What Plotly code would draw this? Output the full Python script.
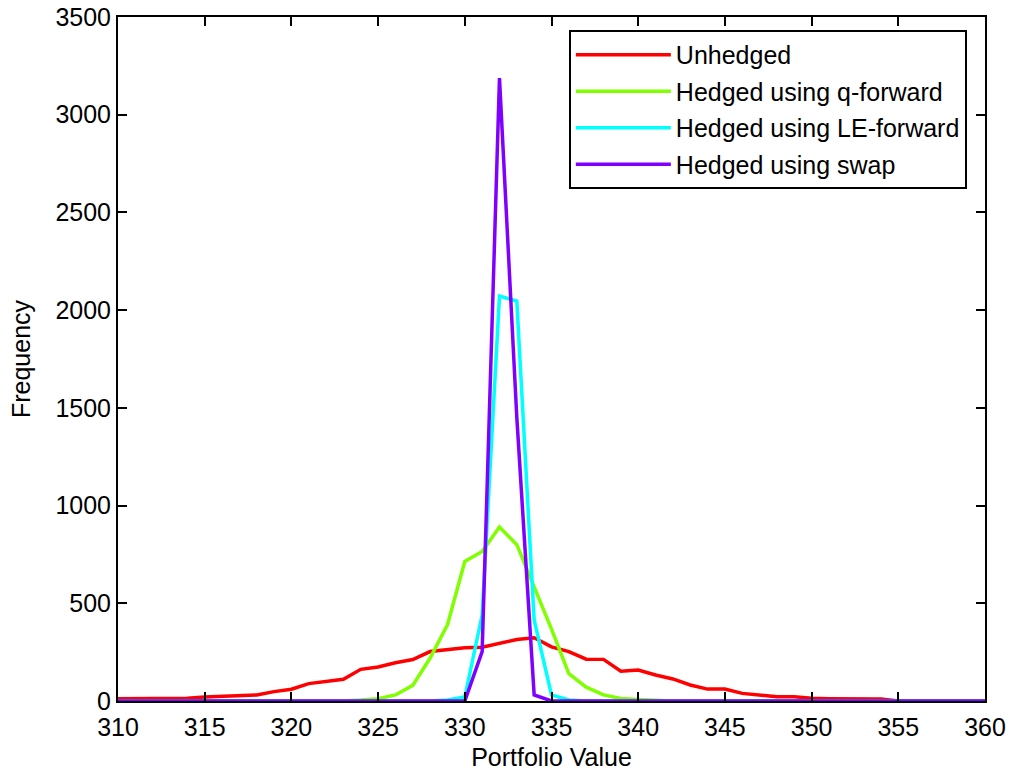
import plotly.graph_objects as go

# Portfolio value bins (integer centres) and frequencies for each strategy
portfolio_value = list(range(310, 361))

unhedged = [12, 12, 12, 12, 14, 20, 24, 30, 31, 48,
            60, 89, 99, 111, 162, 174, 196, 212, 253, 265,
            273, 275, 296, 315, 324, 277, 253, 214, 213, 152,
            158, 133, 113, 82, 61, 61, 39, 31, 22, 22,
            14, 12, 12, 12, 10, 0, 0, 0, 0, 0, 0]

q_forward = [0, 0, 0, 0, 0, 0, 0, 0, 0, 0,
             0, 0, 0, 0, 5, 12, 31, 80, 220, 390,
             714, 765, 890, 800, 584, 368, 140, 71, 31, 13,
             8, 3, 0, 0, 0, 0, 0, 0, 0, 0,
             0, 0, 0, 0, 0, 0, 0, 0, 0, 0, 0]

le_forward = [0, 0, 0, 0, 0, 0, 0, 0, 0, 0,
              0, 0, 0, 0, 0, 0, 0, 0, 0, 5,
              20, 440, 2072, 2046, 415, 31, 5, 0, 0, 0,
              0, 0, 0, 0, 0, 0, 0, 0, 0, 0,
              0, 0, 0, 0, 0, 0, 0, 0, 0, 0, 0]

swap = [0, 0, 0, 0, 0, 0, 0, 0, 0, 0,
        0, 0, 0, 0, 0, 0, 0, 0, 0, 0,
        0, 253, 3187, 1450, 31, 0, 0, 0, 0, 0,
        0, 0, 0, 0, 0, 0, 0, 0, 0, 0,
        0, 0, 0, 0, 0, 0, 0, 0, 0, 0, 0]

series_names = ["Unhedged", "Hedged using q-forward",
                "Hedged using LE-forward", "Hedged using swap"]
series_colors = ["#FF0000", "#80FF00", "#00FFFF", "#8000FF"]
series_values = [unhedged, q_forward, le_forward, swap]

x_ticks = list(range(310, 361, 5))
y_ticks = list(range(0, 3501, 500))

FONT = "Liberation Sans, Arial, sans-serif"

fig = go.Figure()
for i, (name, color, values) in enumerate(zip(series_names, series_colors, series_values)):
    fig.add_trace(go.Scatter(
        x=portfolio_value, y=values, name=name, mode="lines",
        legendgroup=f"g{i}",
        line=dict(color=color, width=3.5),
    ))

axis_common = dict(
    showline=True, linecolor="black", linewidth=2, mirror="ticks",
    ticks="inside", ticklen=9, tickwidth=1.5, tickcolor="black",
    showgrid=False, zeroline=False, automargin=False,
    tickfont=dict(family=FONT, size=25, color="black"),
)

fig.update_layout(
    width=1010, height=772,
    margin=dict(l=118, r=25, t=17, b=71),
    paper_bgcolor="white", plot_bgcolor="white",
    font=dict(family=FONT, size=25, color="black"),
    xaxis=dict(range=[310, 360], tickvals=x_ticks, ticklabelstandoff=3,
               title=dict(text="Portfolio Value", standoff=8,
                          font=dict(family=FONT, size=25)),
               **axis_common),
    yaxis=dict(range=[0, 3500], tickvals=y_ticks,
               title=dict(text="Frequency", standoff=18,
                          font=dict(family=FONT, size=25)),
               **axis_common),
    legend=dict(x=0.52, y=0.981, xanchor="left", yanchor="top",
                bgcolor="white", bordercolor="black", borderwidth=2,
                font=dict(family=FONT, size=25), itemwidth=95,
                traceorder="grouped", tracegroupgap=1),
    showlegend=True,
)

fig.write_html("out.html")
